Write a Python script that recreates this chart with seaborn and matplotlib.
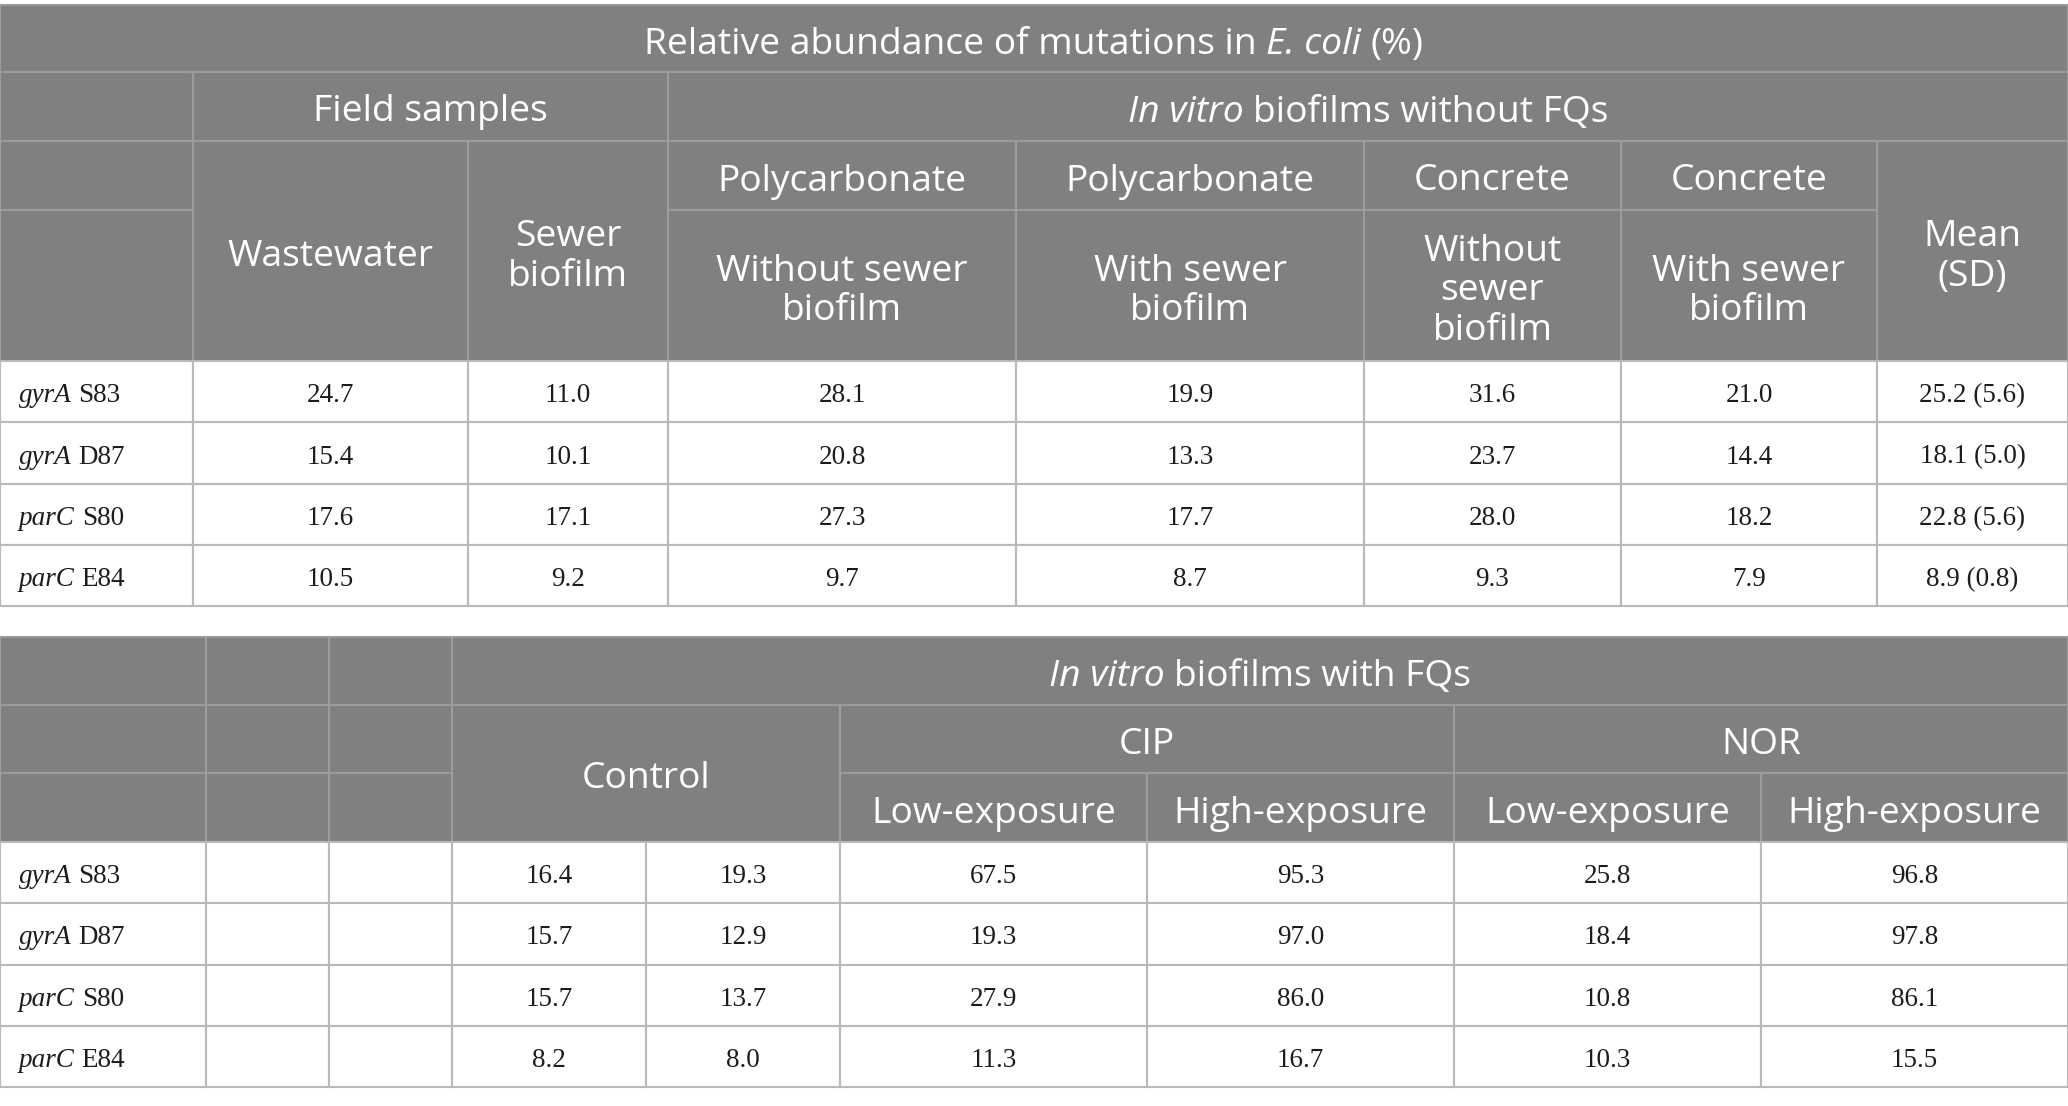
import matplotlib
matplotlib.use("Agg")
import matplotlib.pyplot as plt
from matplotlib.patches import Rectangle
import pandas as pd
import seaborn as sns

sns.set_theme(style="white")

# ---- table values ----
genes = ["gyrA", "gyrA", "parC", "parC"]
sites = ["S83", "D87", "S80", "E84"]

wastewater = [24.7, 15.4, 17.6, 10.5]
sewer_biofilm = [11.0, 10.1, 17.1, 9.2]
poly_without = [28.1, 20.8, 27.3, 9.7]
poly_with = [19.9, 13.3, 17.7, 8.7]
conc_without = [31.6, 23.7, 28.0, 9.3]
conc_with = [21.0, 14.4, 18.2, 7.9]
mean_sd = ["25.2 (5.6)", "18.1 (5.0)", "22.8 (5.6)", "8.9 (0.8)"]

control_a = [16.4, 15.7, 15.7, 8.2]
control_b = [19.3, 12.9, 13.7, 8.0]
cip_low = [67.5, 19.3, 27.9, 11.3]
cip_high = [95.3, 97.0, 86.0, 16.7]
nor_low = [25.8, 18.4, 10.8, 10.3]
nor_high = [96.8, 97.8, 86.1, 15.5]

fmt = lambda vals: [f"{v:.1f}" for v in vals]
df_top = pd.DataFrame({
    "Wastewater": fmt(wastewater), "Sewer biofilm": fmt(sewer_biofilm),
    "PC without": fmt(poly_without), "PC with": fmt(poly_with),
    "Concrete without": fmt(conc_without), "Concrete with": fmt(conc_with),
    "Mean (SD)": mean_sd,
})
df_bot = pd.DataFrame({
    "blank1": [""] * 4, "blank2": [""] * 4,
    "Control a": fmt(control_a), "Control b": fmt(control_b),
    "CIP low": fmt(cip_low), "CIP high": fmt(cip_high),
    "NOR low": fmt(nor_low), "NOR high": fmt(nor_high),
})

# ---- styling ----
W, H = 2068, 1106
HEAD_BG = "#7f817f"
HEAD_LINE = "#9b9d9b"
BODY_LINE = "#b9b9b9"
HEAD_FONT = ["Open Sans", "DejaVu Sans"]
BODY_FONT = ["Liberation Serif", "DejaVu Serif"]
HEAD_SIZE = 26.8
BODY_SIZE = 19.5
HEAD_DY = 6   # small downward nudge so text sits like the reference
BODY_DY = 4
TEXT_COL = "#1c1c1c"

fig = plt.figure(figsize=(W / 100, H / 100), dpi=100)
ax = fig.add_axes([0, 0, 1, 1])
ax.set_xlim(0, W)
ax.set_ylim(H, 0)
ax.axis("off")
renderer = fig.canvas.get_renderer()


def cell(x0, x1, y0, y1, fill, edge):
    ax.add_patch(Rectangle((x0, y0), x1 - x0, y1 - y0, facecolor=fill,
                           edgecolor=edge, linewidth=1.5))


def rich(x, y, parts, family, size, color, ha="center", gap=1.0):
    # parts: list of (text, style); a space is put between parts
    probe1 = ax.text(0, 0, "x x", family=family, fontsize=size)
    probe2 = ax.text(0, 0, "xx", family=family, fontsize=size)
    space = probe1.get_window_extent(renderer).width - probe2.get_window_extent(renderer).width
    probe1.remove(); probe2.remove()
    space *= gap
    items = []
    for s, st in parts:
        t = ax.text(0, y, s, family=family, fontsize=size, style=st,
                    color=color, ha="left", va="center")
        items.append((t, t.get_window_extent(renderer).width))
    total = sum(w for _, w in items) + space * (len(items) - 1)
    cx = x - total / 2 if ha == "center" else x
    for t, w in items:
        t.set_x(cx)
        cx += w + space


def head(x, y, s):
    ax.text(x, y + HEAD_DY, s, family=HEAD_FONT, fontsize=HEAD_SIZE, color="white",
            ha="center", va="center", linespacing=1.12)


def body(x, y, s):
    ax.text(x, y + BODY_DY, s, family=BODY_FONT, fontsize=BODY_SIZE, color=TEXT_COL,
            ha="center", va="center")


# ================= top table =================
ty = [5, 72, 141, 210, 361]
tx = [0, 193, 468, 668, 1016, 1364, 1621, 1877, 2068]
top_rows = [361, 422, 484, 545, 606]

ax.add_patch(Rectangle((0, ty[0]), W, ty[4] - ty[0], facecolor=HEAD_BG, edgecolor="none"))
top_head_cells = [
    (0, W, ty[0], ty[1]),
    (0, tx[1], ty[1], ty[2]), (tx[1], tx[3], ty[1], ty[2]), (tx[3], W, ty[1], ty[2]),
    (0, tx[1], ty[2], ty[3]), (0, tx[1], ty[3], ty[4]),
    (tx[1], tx[2], ty[2], ty[4]), (tx[2], tx[3], ty[2], ty[4]), (tx[7], W, ty[2], ty[4]),
]
for i in range(3, 7):
    top_head_cells.append((tx[i], tx[i + 1], ty[2], ty[3]))
    top_head_cells.append((tx[i], tx[i + 1], ty[3], ty[4]))
for c in top_head_cells:
    cell(*c, fill=HEAD_BG, edge=HEAD_LINE)

rich(W / 2, (ty[0] + ty[1]) / 2 + HEAD_DY,
     [("Relative abundance of mutations in", "normal"), ("E. coli", "italic"), ("(%)", "normal")],
     HEAD_FONT, HEAD_SIZE, "white")
head((tx[1] + tx[3]) / 2, (ty[1] + ty[2]) / 2, "Field samples")
rich((tx[3] + W) / 2, (ty[1] + ty[2]) / 2 + HEAD_DY,
     [("In vitro", "italic"), ("biofilms without FQs", "normal")],
     HEAD_FONT, HEAD_SIZE, "white")
mid_span = (ty[2] + ty[4]) / 2
head((tx[1] + tx[2]) / 2, mid_span, "Wastewater")
head((tx[2] + tx[3]) / 2, mid_span, "Sewer\nbiofilm")
head((tx[7] + W) / 2, mid_span, "Mean\n(SD)")
materials = ["Polycarbonate", "Polycarbonate", "Concrete", "Concrete"]
conditions = ["Without sewer\nbiofilm", "With sewer\nbiofilm", "Without\nsewer\nbiofilm", "With sewer\nbiofilm"]
for i, (m, c) in enumerate(zip(materials, conditions)):
    xc = (tx[3 + i] + tx[4 + i]) / 2
    head(xc, (ty[2] + ty[3]) / 2, m)
    head(xc, (ty[3] + ty[4]) / 2, c)

for r in range(4):
    y0, y1 = top_rows[r], top_rows[r + 1]
    for j in range(len(tx) - 1):
        cell(tx[j], tx[j + 1], y0, y1, fill="white", edge=BODY_LINE)
    rich(19, (y0 + y1) / 2 + BODY_DY, [(genes[r], "italic"), (sites[r], "normal")],
         BODY_FONT, BODY_SIZE, TEXT_COL, ha="left", gap=1.0)
    for j, col in enumerate(df_top.columns):
        body((tx[j + 1] + tx[j + 2]) / 2, (y0 + y1) / 2, df_top[col][r])

# ================= bottom table =================
by = [637, 705, 773, 842]
bx = [0, 206, 329, 452, 646, 840, 1147, 1454, 1761, 2068]
bot_rows = [842, 903, 965, 1026, 1087]

ax.add_patch(Rectangle((0, by[0]), W, by[3] - by[0], facecolor=HEAD_BG, edgecolor="none"))
bot_head_cells = [(bx[3], W, by[0], by[1]),
                  (bx[3], bx[5], by[1], by[3]),
                  (bx[5], bx[7], by[1], by[2]), (bx[7], W, by[1], by[2])]
for k in range(3):
    for j in range(3):
        bot_head_cells.append((bx[j], bx[j + 1], by[k], by[k + 1]))
for j in range(5, 9):
    bot_head_cells.append((bx[j], bx[j + 1], by[2], by[3]))
for c in bot_head_cells:
    cell(*c, fill=HEAD_BG, edge=HEAD_LINE)

rich((bx[3] + W) / 2, (by[0] + by[1]) / 2 + HEAD_DY,
     [("In vitro", "italic"), ("biofilms with FQs", "normal")],
     HEAD_FONT, HEAD_SIZE, "white")
head((bx[3] + bx[5]) / 2, (by[1] + by[3]) / 2, "Control")
head((bx[5] + bx[7]) / 2, (by[1] + by[2]) / 2, "CIP")
head((bx[7] + W) / 2, (by[1] + by[2]) / 2, "NOR")
for j, lab in enumerate(["Low-exposure", "High-exposure", "Low-exposure", "High-exposure"]):
    head((bx[5 + j] + bx[6 + j]) / 2, (by[2] + by[3]) / 2, lab)

for r in range(4):
    y0, y1 = bot_rows[r], bot_rows[r + 1]
    for j in range(len(bx) - 1):
        cell(bx[j], bx[j + 1], y0, y1, fill="white", edge=BODY_LINE)
    rich(19, (y0 + y1) / 2 + BODY_DY, [(genes[r], "italic"), (sites[r], "normal")],
         BODY_FONT, BODY_SIZE, TEXT_COL, ha="left", gap=1.0)
    for j, col in enumerate(df_bot.columns):
        body((bx[j + 1] + bx[j + 2]) / 2, (y0 + y1) / 2, df_bot[col][r])

fig.savefig("out.png", dpi=100, facecolor="white")
